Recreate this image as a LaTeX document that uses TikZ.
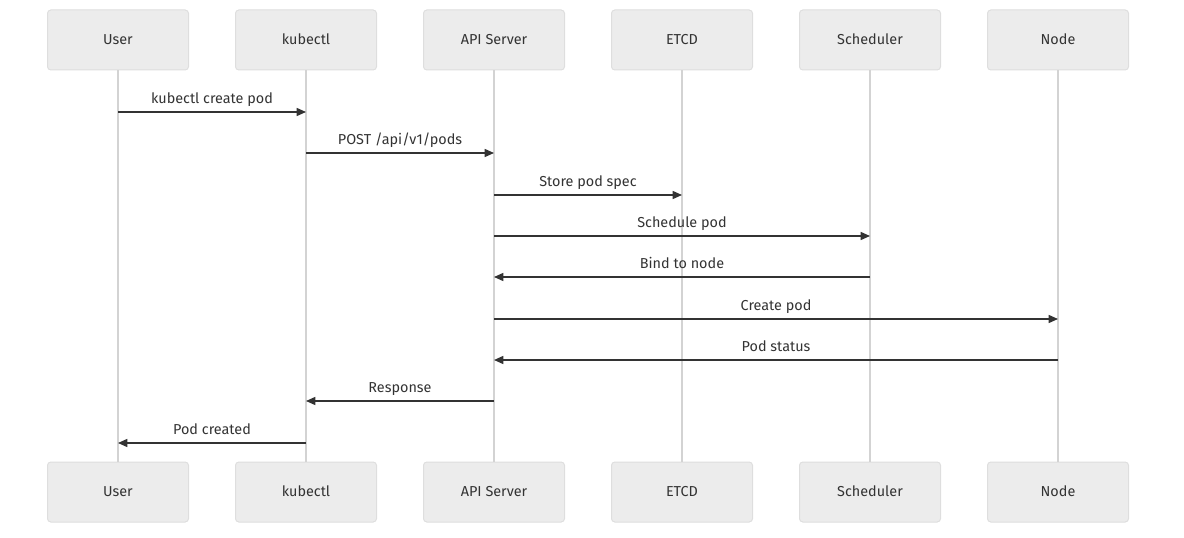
\documentclass[tikz,border=0pt]{standalone}
\usepackage{fontspec}
\setmainfont{Fira Sans}
\usetikzlibrary{arrows.meta}
\definecolor{boxfill}{HTML}{ECECEC}
\definecolor{boxline}{HTML}{DEDEDE}
\definecolor{lifegray}{HTML}{D3D3D3}
\definecolor{txtgray}{HTML}{333333}

\tikzset{
  actor/.style={rectangle, rounded corners=2.5pt, draw=boxline, line width=0.75pt, fill=boxfill,
    minimum width=105.75pt, minimum height=45pt, text height=1.6ex, text depth=0.3ex},
  life/.style={draw=lifegray, line width=1.5pt},
  msg/.style={draw=txtgray, line width=1.1pt, ->},
  lbl/.style={midway, above=0pt, text height=1.6ex, text depth=0.45ex}
}

\begin{document}
\begin{tikzpicture}[x=0.75pt,y=-0.75pt,>={Triangle[length=7pt,width=6pt]},
  every node/.style={font=\fontsize{10.8}{12}\selectfont, text=txtgray}]
    \useasboundingbox (0,0) rectangle (1184,538);

    % participants, top and bottom, with lifelines
    \foreach \n/\t/\x in {user/User/118, kctl/kubectl/306, api/API Server/494,
                          etcd/ETCD/682, sched/Scheduler/870, node/Node/1058} {
        \node[actor] (\n T) at (\x,40) {\t};
        \node[actor] (\n B) at (\x,492) {\t};
        \draw[life] (\n T) -- (\n B);
    }

    % messages
    \draw[msg] (userT |- 0,112) -- (kctlT |- 0,112) node[lbl] {kubectl create pod};
    \draw[msg] (kctlT |- 0,153) -- (apiT |- 0,153) node[lbl] {POST /api/v1/pods};
    \draw[msg] (apiT |- 0,195) -- (etcdT |- 0,195) node[lbl] {Store pod spec};
    \draw[msg] (apiT |- 0,236) -- (schedT |- 0,236) node[lbl] {Schedule pod};
    \draw[msg] (schedT |- 0,277) -- (apiT |- 0,277) node[lbl] {Bind to node};
    \draw[msg] (apiT |- 0,319) -- (nodeT |- 0,319) node[lbl] {Create pod};
    \draw[msg] (nodeT |- 0,360) -- (apiT |- 0,360) node[lbl] {Pod status};
    \draw[msg] (apiT |- 0,401) -- (kctlT |- 0,401) node[lbl] {Response};
    \draw[msg] (kctlT |- 0,443) -- (userT |- 0,443) node[lbl] {Pod created};
\end{tikzpicture}
\end{document}
